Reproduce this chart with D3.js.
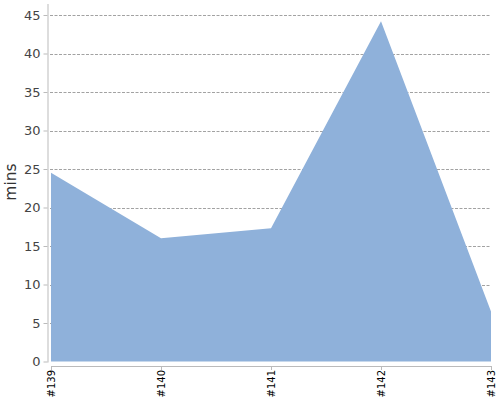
<!DOCTYPE html>
<html>
<head>
<meta charset="utf-8">
<script src="https://cdn.jsdelivr.net/npm/d3@7"></script>
<style>
  body { margin: 0; background: #fff; }
  svg { display: block; font-family: "DejaVu Sans", sans-serif; }
</style>
</head>
<body>
<div id="chart"></div>
<script>
const builds = ["#139", "#140", "#141", "#142", "#143"];
const durations = [24.5, 16.0, 17.3, 44.2, 6.5];
const yTicks = [0, 5, 10, 15, 20, 25, 30, 35, 40, 45];

const width = 500, height = 400;
const margin = { top: 15, right: 9, bottom: 38.5, left: 51 };

const svg = d3.select("#chart").append("svg")
    .attr("width", width)
    .attr("height", height);

const x = d3.scalePoint()
    .domain(builds)
    .range([margin.left, width - margin.right]);

const y = d3.scaleLinear()
    .domain([0, 45])
    .range([height - margin.bottom, margin.top]);

// gridlines (the 0 line sits under the area)
svg.append("g")
    .selectAll("line")
    .data(yTicks.filter(d => d > 0))
    .enter().append("line")
    .attr("x1", margin.left - 1)
    .attr("x2", width - margin.right)
    .attr("y1", d => Math.round(y(d)) + 0.5)
    .attr("y2", d => Math.round(y(d)) + 0.5)
    .attr("stroke", "#8a8a8a")
    .attr("stroke-dasharray", "3,1.5")
    .attr("stroke-width", 0.8);

// area
const area = d3.area()
    .x((d, i) => x(builds[i]))
    .y0(y(0))
    .y1(d => y(d));

svg.append("path")
    .datum(durations)
    .attr("d", area)
    .attr("fill", "#8fb1da");

// y axis
const yAxis = svg.append("g")
    .attr("transform", `translate(${margin.left - 3.5},0)`)
    .call(d3.axisLeft(y).tickValues(yTicks).tickSize(4).tickPadding(3).tickSizeOuter(0));
yAxis.attr("font-family", "DejaVu Sans, sans-serif");
yAxis.select(".domain").attr("stroke", "#bbb").attr("d", `M0.5,4V${y(0) + 1}`);
yAxis.selectAll(".tick line").attr("stroke", "#bbb");
yAxis.selectAll(".tick text")
    .attr("fill", "#444")
    .style("font-size", "13px");

svg.append("text")
    .attr("text-anchor", "middle")
    .attr("transform", `translate(16,182) rotate(-90)`)
    .attr("fill", "#333")
    .style("font-size", "15.5px")
    .text("mins");

// x axis
const xAxis = svg.append("g")
    .attr("transform", `translate(0,${Math.round(y(0)) + 4})`)
    .call(d3.axisBottom(x).tickSize(4).tickSizeOuter(0));
xAxis.attr("font-family", "DejaVu Sans, sans-serif");
xAxis.select(".domain").attr("stroke", "#bbb");
xAxis.selectAll(".tick line").attr("stroke", "#bbb");
xAxis.selectAll(".tick text")
    .attr("fill", "#000")
    .style("font-size", "10px")
    .attr("text-anchor", "end")
    .attr("dy", "0.35em")
    .attr("transform", "translate(0,4) rotate(-90)")
    .attr("x", 0)
    .attr("y", 0);
</script>
</body>
</html>
